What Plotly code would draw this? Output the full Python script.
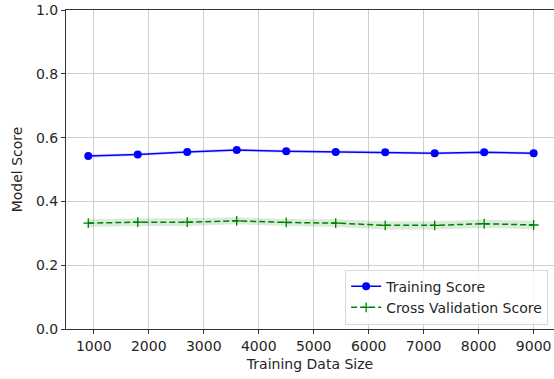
import plotly.graph_objects as go

train_sizes = [900, 1800, 2700, 3600, 4500, 5400, 6300, 7200, 8100, 9000]
train_mean = [0.542, 0.547, 0.555, 0.561, 0.557, 0.555, 0.554, 0.551, 0.554, 0.551]
train_std = [0.006, 0.005, 0.005, 0.005, 0.005, 0.005, 0.005, 0.005, 0.005, 0.005]
cv_mean = [0.332, 0.335, 0.335, 0.339, 0.334, 0.332, 0.325, 0.325, 0.330, 0.326]
cv_std = [0.012, 0.012, 0.012, 0.011, 0.011, 0.012, 0.013, 0.013, 0.013, 0.013]

x_ticks = [1000, 2000, 3000, 4000, 5000, 6000, 7000, 8000, 9000]
y_ticks = [0.0, 0.2, 0.4, 0.6, 0.8, 1.0]

FONT = "DejaVu Sans"
FS = 14
fig = go.Figure()

def band(mean, std, color):
    upper = [m + s for m, s in zip(mean, std)]
    lower = [m - s for m, s in zip(mean, std)]
    return go.Scatter(
        x=train_sizes + train_sizes[::-1],
        y=upper + lower[::-1],
        fill="toself", fillcolor=color, mode="none",
        showlegend=False, hoverinfo="skip")

fig.add_trace(band(train_mean, train_std, "rgba(0,0,255,0.12)"))
fig.add_trace(band(cv_mean, cv_std, "rgba(0,128,0,0.15)"))

fig.add_trace(go.Scatter(
    x=train_sizes, y=train_mean, mode="lines+markers", name="Training Score",
    line=dict(color="#0000ff", width=1.5),
    marker=dict(symbol="circle", size=8, color="#0000ff")))
fig.add_trace(go.Scatter(
    x=train_sizes, y=cv_mean, mode="lines+markers", name="Cross Validation Score",
    line=dict(color="#008000", width=1.5, dash="6px,3px"),
    marker=dict(symbol="cross-thin", size=7, color="#008000",
                line=dict(color="#008000", width=1.3))))

axis_common = dict(
    showgrid=True, gridcolor="#cfcfcf", gridwidth=1,
    showline=True, linecolor="#333333", linewidth=1,
    ticks="outside", ticklen=4, tickcolor="#333333", tickwidth=1,
    zeroline=False, tickfont=dict(family=FONT, size=FS, color="#262626"),
)

fig.update_xaxes(range=[495, 9370], tickvals=x_ticks, mirror=True,
                 title=dict(text="Training Data Size", font=dict(family=FONT, size=FS, color="#262626"), standoff=6),
                 **axis_common)
fig.update_yaxes(range=[0, 1.0], tickvals=y_ticks, tickformat=".1f",
                 title=dict(text="Model Score", font=dict(family=FONT, size=FS, color="#262626"), standoff=10),
                 **axis_common)

fig.update_layout(
    width=554, height=379,
    margin=dict(l=66, r=0, t=10, b=50),
    plot_bgcolor="white", paper_bgcolor="white",
    font=dict(family=FONT, size=FS, color="#262626"),
    legend=dict(x=0.988, y=0.014, xanchor="right", yanchor="bottom",
                bordercolor="#d9d9d9", borderwidth=1, bgcolor="rgba(255,255,255,0.8)",
                font=dict(family=FONT, size=FS, color="#262626"),
                itemwidth=30, tracegroupgap=0),
    showlegend=True,
)

fig.write_html("out.html")
